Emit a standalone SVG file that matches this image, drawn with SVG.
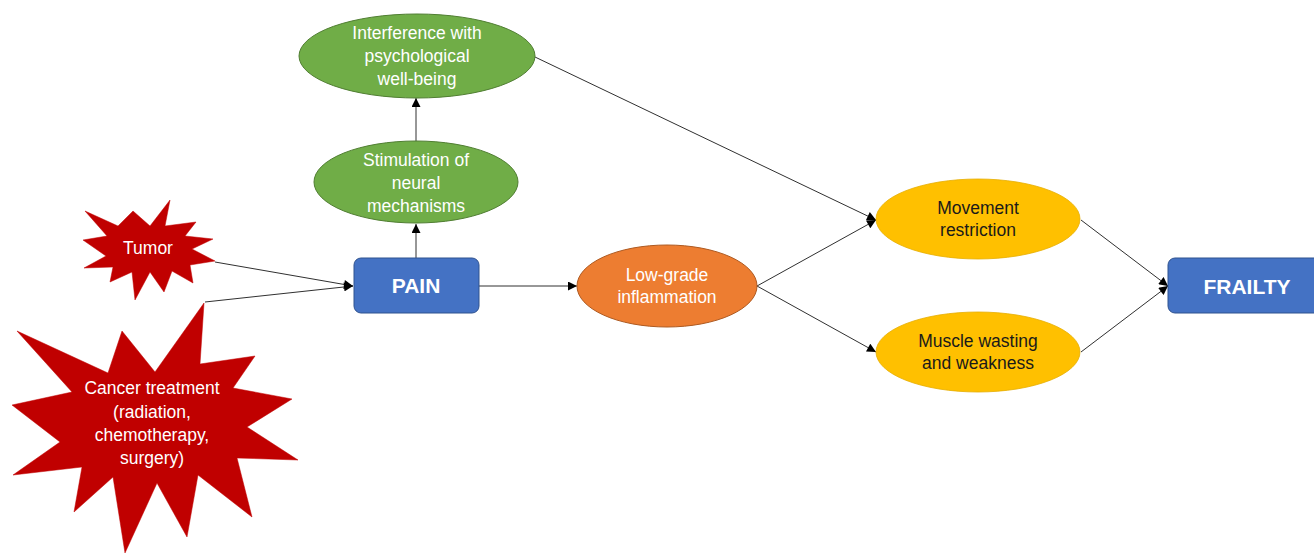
<svg xmlns="http://www.w3.org/2000/svg" width="1314" height="554" viewBox="0 0 1314 554">
<style>
.t{font-family:"Liberation Sans",Arial,sans-serif;font-size:17.5px;text-anchor:middle}
.w{fill:#ffffff}
.k{fill:#1a1a1a}
.b{font-weight:bold;font-size:21px}
.green{fill:#70AD47;stroke:#507E32;stroke-width:1}
.orange{fill:#ED7D31;stroke:#AE5A21;stroke-width:1}
.yellow{fill:#FFC000;stroke:#E6AD00;stroke-width:0.8}
.blue{fill:#4472C4;stroke:#2F528F;stroke-width:1}
.red{fill:#C00000;stroke:#C00000;stroke-width:0.5}
.c{stroke:#303030;stroke-width:1;fill:none;marker-end:url(#ah)}
</style>
<defs>
<marker id="ah" viewBox="0 0 10 10" refX="10" refY="5" markerWidth="10" markerHeight="9" markerUnits="userSpaceOnUse" orient="auto">
<path d="M0,0 L10,5 L0,10 Z" fill="#000"/>
</marker>
</defs>
<rect width="1314" height="554" fill="#ffffff"/>
<g id="connectors">
<line class="c" x1="215" y1="262" x2="353" y2="286"/>
<line class="c" x1="205" y1="302" x2="353" y2="286"/>
<line class="c" x1="416" y1="258" x2="416" y2="224"/>
<line class="c" x1="416" y1="142" x2="416" y2="98"/>
<line class="c" x1="479" y1="286" x2="577" y2="286"/>
<line class="c" x1="535" y1="57" x2="876" y2="220"/>
<line class="c" x1="757" y1="286" x2="876" y2="220"/>
<line class="c" x1="757" y1="286" x2="876" y2="352"/>
<line class="c" x1="1081" y1="220" x2="1168" y2="286"/>
<line class="c" x1="1081" y1="352" x2="1168" y2="286"/>
</g>
<g id="tumor">
<polygon class="red" points="170,200 165,226 196,222 185,236 213,239 192,249 215,261 190,265 193,283 172,271 164,292 150,272 135,300 132,272 110,282 113,267 84,268 106,256 83,240 107,236 85,211 118,226 133,211 150,226"/>
<text class="t w" x="148" y="254">Tumor</text>
</g>
<g id="cancer-treatment">
<polygon class="red" points="204,303 200,364 255,356 233,388 292,399 247,427 298,460 237,458 252,517 198,475 187,537 157,483 125,553 113,477 74,512 82,467 13,475 60,442 12,405 72,392 17,331 108,373 122,331 155,372"/>
<text class="t w" x="152" y="394">Cancer treatment</text>
<text class="t w" x="152" y="418">(radiation,</text>
<text class="t w" x="152" y="441">chemotherapy,</text>
<text class="t w" x="152" y="464">surgery)</text>
</g>
<g id="pain">
<rect class="blue" x="354" y="258" width="125" height="55" rx="7"/>
<text class="t w b" x="416" y="293">PAIN</text>
</g>
<g id="stimulation">
<ellipse class="green" cx="416" cy="182" rx="102" ry="41"/>
<text class="t w" x="416" y="166">Stimulation of</text>
<text class="t w" x="416" y="189">neural</text>
<text class="t w" x="416" y="212">mechanisms</text>
</g>
<g id="interference">
<ellipse class="green" cx="417" cy="56" rx="118" ry="42"/>
<text class="t w" x="417" y="39">Interference with</text>
<text class="t w" x="417" y="62">psychological</text>
<text class="t w" x="417" y="85">well-being</text>
</g>
<g id="low-grade">
<ellipse class="orange" cx="667" cy="286" rx="90" ry="41"/>
<text class="t w" x="667" y="281">Low-grade</text>
<text class="t w" x="667" y="303">inflammation</text>
</g>
<g id="movement">
<ellipse class="yellow" cx="978" cy="219" rx="102" ry="40"/>
<text class="t k" x="978" y="214">Movement</text>
<text class="t k" x="978" y="236">restriction</text>
</g>
<g id="muscle">
<ellipse class="yellow" cx="978" cy="352" rx="102" ry="40"/>
<text class="t k" x="978" y="347">Muscle wasting</text>
<text class="t k" x="978" y="369">and weakness</text>
</g>
<g id="frailty">
<rect class="blue" x="1168" y="258" width="160" height="55" rx="7"/>
<text class="t w b" x="1247" y="294">FRAILTY</text>
</g>
</svg>
